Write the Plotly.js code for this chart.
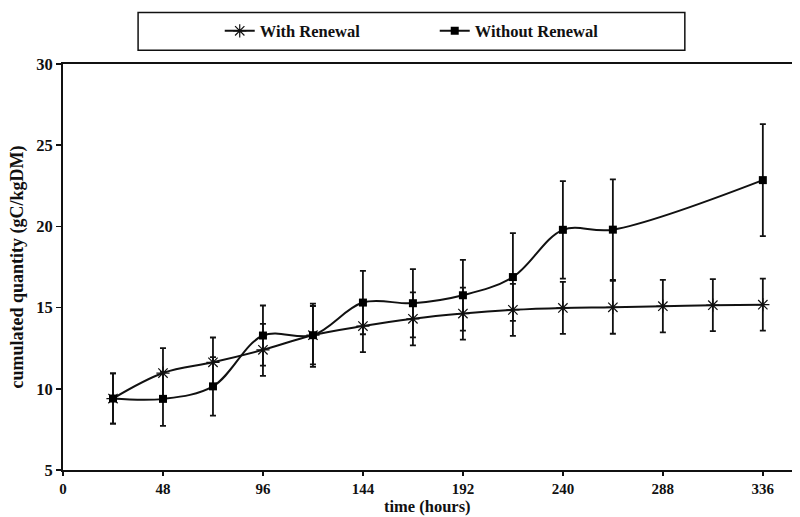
<!DOCTYPE html>
<html>
<head>
<meta charset="utf-8">
<script src="https://cdn.plot.ly/plotly-3.0.1.min.js"></script>
<style>html,body{margin:0;padding:0;background:#fff;}#chart{width:800px;height:517px;}</style>
</head>
<body>
<div id="chart"></div>
<script>
// Data
const hoursWith = [24, 48, 72, 96, 120, 144, 168, 192, 216, 240, 264, 288, 312, 336];
const withRenewal = [9.4, 10.97, 11.63, 12.4, 13.3, 13.86, 14.31, 14.63, 14.86, 14.98, 15.02, 15.09, 15.15, 15.18];
const withRenewalErr = [1.55, 1.53, 1.53, 1.6, 1.8, 1.6, 1.63, 1.6, 1.6, 1.6, 1.63, 1.62, 1.6, 1.6];

const hoursWithout = [24, 48, 72, 96, 120, 144, 168, 192, 216, 240, 264, 336];
const withoutRenewal = [9.4, 9.38, 10.15, 13.28, 13.3, 15.31, 15.27, 15.76, 16.88, 19.79, 19.8, 22.85];
const withoutRenewalErr = [1.55, 1.66, 1.8, 1.85, 1.95, 1.95, 2.1, 2.18, 2.7, 3.0, 3.1, 3.45];

const xTicks = [0, 48, 96, 144, 192, 240, 288, 336];
const yTicks = [5, 10, 15, 20, 25, 30];
const xTitle = "time (hours)";
const yTitle = "cumulated quantity (gC/kgDM)";

const serif = "Liberation Serif, Times New Roman, serif";

const traces = [
  {
    x: hoursWith, y: withRenewal, name: "With Renewal",
    type: "scatter", mode: "lines+markers",
    line: {color: "#111", width: 2, shape: "spline", smoothing: 1},
    marker: {symbol: "asterisk-open", size: 11, color: "#111", line: {color: "#111", width: 1.2}},
    error_y: {type: "data", array: withRenewalErr, visible: true, color: "#111", thickness: 1.8, width: 3}
  },
  {
    x: hoursWithout, y: withoutRenewal, name: "Without Renewal",
    type: "scatter", mode: "lines+markers",
    line: {color: "#111", width: 2, shape: "spline", smoothing: 1},
    marker: {symbol: "square", size: 8, color: "#000"},
    error_y: {type: "data", array: withoutRenewalErr, visible: true, color: "#111", thickness: 1.8, width: 3}
  }
];

const layout = {
  width: 800, height: 517,
  margin: {l: 63, r: 8, t: 64, b: 47},
  paper_bgcolor: "#fff", plot_bgcolor: "#fff",
  showlegend: true,
  legend: {
    orientation: "h", x: 0.215, xanchor: "left", y: 1.081, yanchor: "middle",
    font: {family: serif, size: 16.5, color: "#111", weight: "bold"},
    bgcolor: "rgba(0,0,0,0)", borderwidth: 0,
    entrywidth: 170, entrywidthmode: "pixels", itemwidth: 30
  },
  shapes: [{
    type: "rect", xref: "paper", yref: "paper",
    x0: 0.103, x1: 0.853, y0: 1.034, y1: 1.127,
    line: {color: "#111", width: 1.5}, fillcolor: "rgba(0,0,0,0)"
  }],
  annotations: [{
    text: xTitle, xref: "paper", yref: "paper",
    x: 0.5, y: 0, yshift: -36, xanchor: "center", yanchor: "middle", showarrow: false,
    font: {family: serif, size: 16.5, color: "#111", weight: "bold"}
  }],
  xaxis: {
    range: [0, 350], tickmode: "array", tickvals: xTicks,
    showgrid: false, zeroline: false,
    showline: true, linecolor: "#111", linewidth: 2, mirror: true,
    ticks: "outside", ticklen: 4, tickwidth: 1.5, tickcolor: "#111",
    tickfont: {family: serif, size: 15, color: "#111", weight: "bold"},
    automargin: false
  },
  yaxis: {
    range: [5, 30], tickmode: "array", tickvals: yTicks,
    showgrid: false, zeroline: false,
    showline: true, linecolor: "#111", linewidth: 2,
    ticks: "outside", ticklen: 5, tickwidth: 1.5, tickcolor: "#111",
    tickfont: {family: serif, size: 16.5, color: "#111", weight: "bold"},
    title: {text: yTitle, font: {family: serif, size: 18, color: "#111", weight: "bold"}, standoff: 8},
    automargin: false
  }
};

Plotly.newPlot("chart", traces, layout, {displayModeBar: false, staticPlot: true});
</script>
</body>
</html>
